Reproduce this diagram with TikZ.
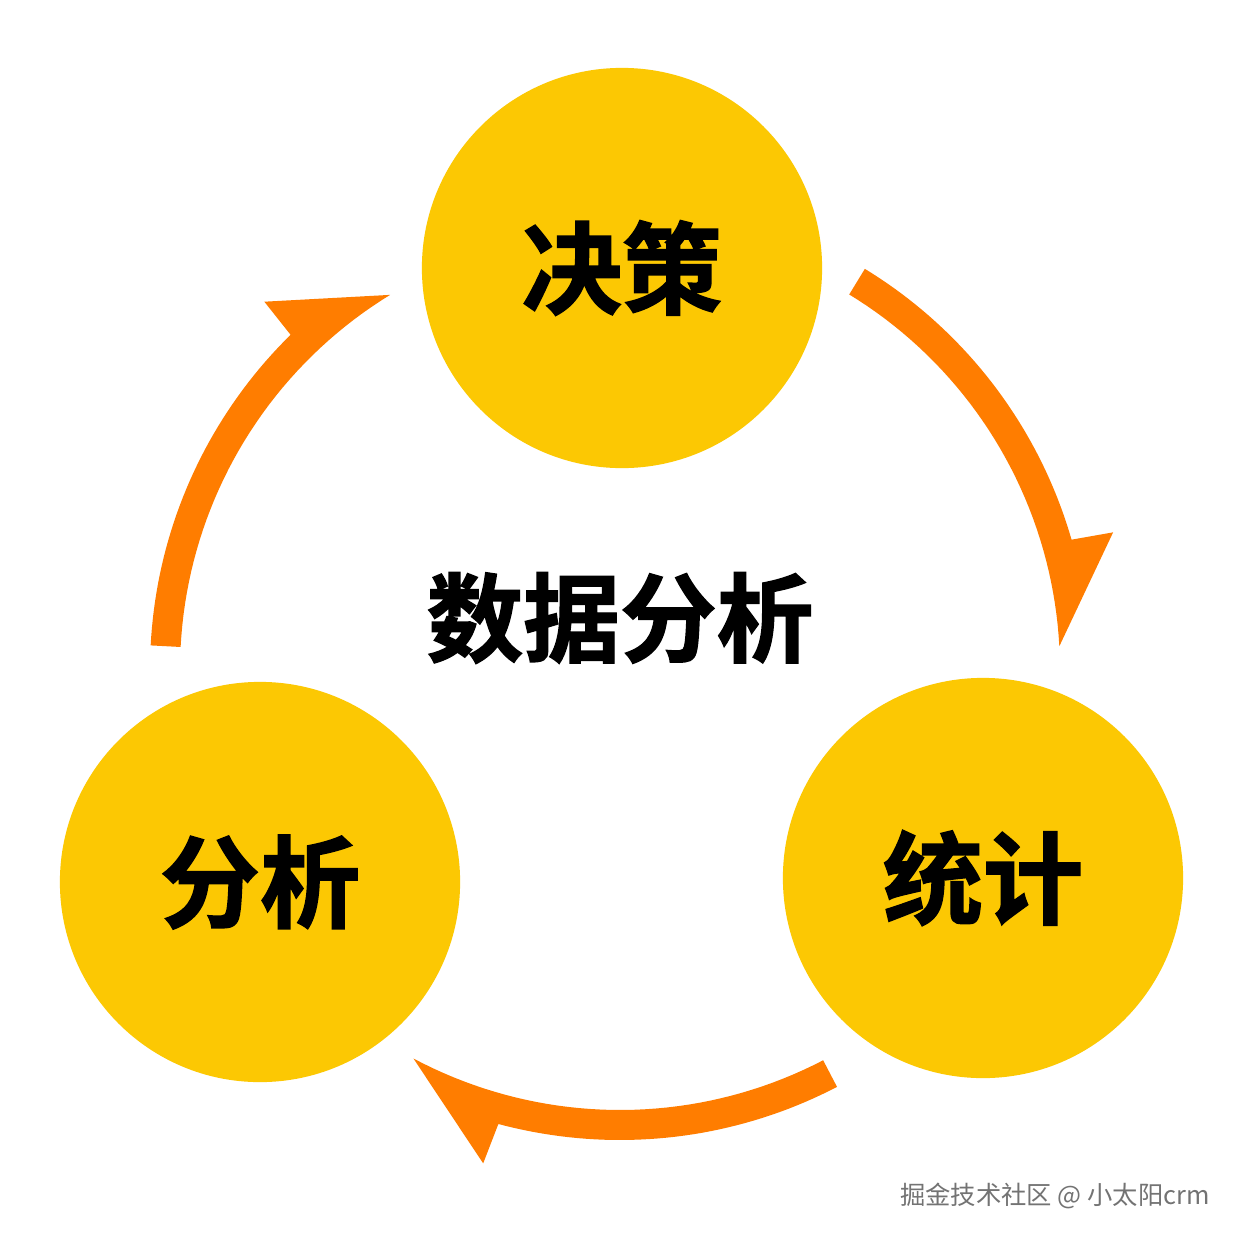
\documentclass[tikz,border=0pt]{standalone}
\usepackage{xcolor}
\usepackage{fontspec}
\usetikzlibrary{positioning}
\newfontfamily\cjk{Noto Sans CJK SC}
\newfontfamily\cjkheavy{Noto Sans CJK SC Bold}[FakeBold=1.5]
\definecolor{sunyellow}{RGB}{252,200,3}
\definecolor{swooshorange}{RGB}{255,125,0}

\begin{document}
\begin{tikzpicture}[
    x=0.01cm, y=-0.01cm,
    stage/.style={
        circle, fill=sunyellow, minimum size=4cm, inner sep=0pt,
        font=\cjkheavy\fontsize{28.5}{30}\selectfont
    },
    title/.style={font=\cjkheavy\fontsize{27.5}{30}\selectfont},
    swoosh/.style={fill=swooshorange},
    credit/.style={font=\cjk\fontsize{7.2}{9}\selectfont, text=black!55}
]
\fill[white] (0,0) rectangle (1242,1242);
\useasboundingbox (0,0) rectangle (1242,1242);

% --- Centre title
\node (core)    [title]      at (620,618) {数据分析};

% --- Three stages round the centre (clockwise)
\node (decide)  [stage]      at (622,268) {决策};
\node (stats)   [stage]      at (983,878) {统计};
\node (analyse) [stage]      at (260,882) {分析};

% --- Curved arrows: decide -> stats -> analyse -> decide
\begin{scope}[shift={(620,670)}]
\foreach \a in {-58.6, 62.5, 183} {
    \fill [swoosh] plot[domain=\a:\a+55.5, samples=40] (\x:440)
        -- (\a+43:512) -- (\a+42.5:470)
        -- plot[domain=\a+42.5:\a, samples=40] (\x:470) -- cycle;
}
\end{scope}

% --- Source note
\node (source)  [credit]     at (1055,1196) {掘金技术社区 @ 小太阳crm};

\end{tikzpicture}
\end{document}
